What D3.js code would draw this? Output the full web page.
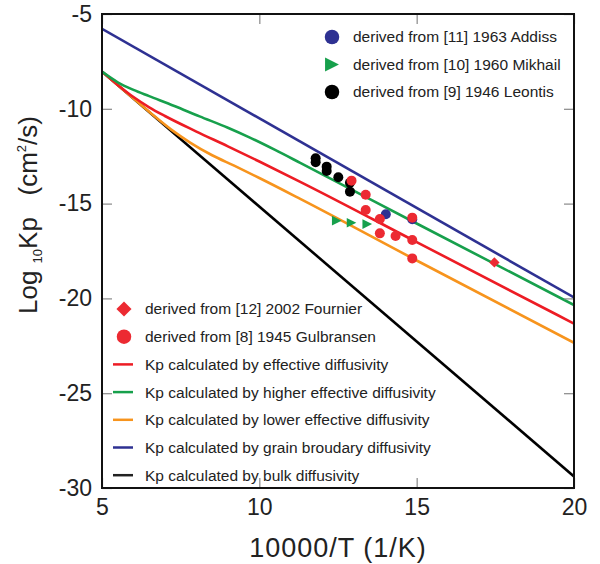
<!DOCTYPE html>
<html>
<head>
<meta charset="utf-8">
<script src="https://cdn.jsdelivr.net/npm/d3@7"></script>
<style>
  body { margin: 0; background: #fff; }
  svg { font-family: "Liberation Sans", Arial, sans-serif; }
</style>
</head>
<body>
<div id="chart"></div>
<script>
// Log10 Kp vs 10000/T

const xTicks = [5, 10, 15, 20];
const yTicks = [-5, -10, -15, -20, -25, -30];

// calculated curves [10000/T, log10 Kp]
const gbLine = [[5, -5.78], [20, -19.95]];
const bulkLine = [[5, -8.04], [20, -29.39]];
const effLine = [[5, -8.04], [5.5, -8.74], [6, -9.38], [6.5, -9.92], [7, -10.38], [8, -11.2], [9, -11.98], [10, -12.78], [11.3, -13.85], [15, -17.03], [20, -21.33]];
const highLine = [[5, -8.04], [5.5, -8.6], [6, -9.0], [6.5, -9.33], [7.3, -9.85], [8.1, -10.4], [9, -11.0], [9.7, -11.52], [10.5, -12.17], [11.3, -12.85], [15, -16.05], [20, -20.35]];
const lowLine = [[5, -8.04], [6, -9.46], [6.6, -10.3], [7.2, -11.1], [7.8, -11.78], [8.5, -12.45], [9.2, -13.0], [10, -13.65], [11.3, -14.75], [15, -18.0], [20, -22.34]];

// measured points
const addiss = [[14.02, -15.56], [14.86, -15.83]];
const mikhail = [[12.46, -15.90], [12.93, -16.01], [13.43, -16.08]];
const leontis = [[11.79, -12.61], [11.79, -12.82], [12.14, -13.05], [12.14, -13.28], [12.51, -13.61], [12.88, -13.90], [12.88, -14.37]];
const fournier = [[17.47, -18.10]];
const gulbransen = [[12.93, -13.79], [13.38, -14.53], [13.38, -15.34], [13.83, -15.81], [13.83, -16.57], [14.33, -16.71], [14.86, -15.74], [14.86, -16.92], [14.86, -17.89]];

const topLegend = [
  { label: 'derived from [11] 1963 Addiss', shape: 'circle', color: '#2e3192' },
  { label: 'derived from [10] 1960 Mikhail', shape: 'triangle', color: '#17a04c' },
  { label: 'derived from [9] 1946 Leontis', shape: 'circle', color: '#000' }
];
const bottomLegend = [
  { label: 'derived from [12] 2002 Fournier', shape: 'diamond', color: '#ec2a32' },
  { label: 'derived from [8] 1945 Gulbransen', shape: 'circle', color: '#ec2a32' },
  { label: 'Kp calculated by effective diffusivity', shape: 'line', color: '#ed1c24' },
  { label: 'Kp calculated by higher effective diffusivity', shape: 'line', color: '#17a04c' },
  { label: 'Kp calculated by lower effective diffusivity', shape: 'line', color: '#f7941d' },
  { label: 'Kp calculated by grain broudary diffusivity', shape: 'line', color: '#2e3192' },
  { label: 'Kp calculated by bulk diffusivity', shape: 'line', color: '#222' }
];

const width = 600, height = 564;
const plotLeft = 102, plotRight = 574, plotTop = 14, plotBottom = 488;

const svg = d3.select('#chart').append('svg')
  .attr('width', width)
  .attr('height', height);

const x = d3.scaleLinear().domain([5, 20]).range([plotLeft, plotRight]);
const y = d3.scaleLinear().domain([-30, -5]).range([plotBottom, plotTop]);

const line = d3.line()
  .x(d => x(d[0]))
  .y(d => y(d[1]))
  .curve(d3.curveMonotoneX);

const plot = svg.append('g');
plot.append('clipPath').attr('id', 'clip')
  .append('rect')
  .attr('x', plotLeft).attr('y', plotTop)
  .attr('width', plotRight - plotLeft).attr('height', plotBottom - plotTop);

const lines = plot.append('g').attr('clip-path', 'url(#clip)');
[
  [bulkLine, '#000'],
  [lowLine, '#f7941d'],
  [effLine, '#ed1c24'],
  [highLine, '#17a04c'],
  [gbLine, '#2e3192']
].forEach(([data, color]) => {
  lines.append('path')
    .datum(data)
    .attr('d', line)
    .attr('fill', 'none')
    .attr('stroke', color)
    .attr('stroke-width', 2.6);
});

function drawMarker(g, shape, color, cx, cy, s) {
  if (shape === 'circle') {
    g.append('circle').attr('cx', cx).attr('cy', cy).attr('r', 5 * s).attr('fill', color);
  } else if (shape === 'triangle') {
    const h = 4.8 * s;
    g.append('path')
      .attr('d', `M${cx - h},${cy - h} L${cx + h},${cy} L${cx - h},${cy + h} Z`)
      .attr('fill', color);
  } else if (shape === 'diamond') {
    const h = 5.2 * s;
    g.append('path')
      .attr('d', `M${cx},${cy - h} L${cx + h},${cy} L${cx},${cy + h} L${cx - h},${cy} Z`)
      .attr('fill', color);
  }
}

const pts = plot.append('g');
leontis.forEach(d => drawMarker(pts, 'circle', '#000', x(d[0]), y(d[1]), 1));
addiss.forEach(d => drawMarker(pts, 'circle', '#2e3192', x(d[0]), y(d[1]), 1));
mikhail.forEach(d => drawMarker(pts, 'triangle', '#17a04c', x(d[0]), y(d[1]), 1));
gulbransen.forEach(d => drawMarker(pts, 'circle', '#ec2a32', x(d[0]), y(d[1]), 1));
fournier.forEach(d => drawMarker(pts, 'diamond', '#ec2a32', x(d[0]), y(d[1]), 1));

// legends
const lg1 = svg.append('g');
topLegend.forEach((d, i) => {
  const cy = 37 + i * 27.5;
  drawMarker(lg1, d.shape, d.color, 332, cy, 1.45);
  lg1.append('text')
    .attr('x', 353).attr('y', cy)
    .attr('dy', '0.35em')
    .attr('font-size', 15.5)
    .attr('fill', '#222')
    .text(d.label);
});

const lg2 = svg.append('g');
bottomLegend.forEach((d, i) => {
  const cy = 309 + i * 27.7;
  if (d.shape === 'line') {
    lg2.append('line')
      .attr('x1', 113).attr('x2', 133)
      .attr('y1', cy).attr('y2', cy)
      .attr('stroke', d.color).attr('stroke-width', 2.5);
  } else {
    drawMarker(lg2, d.shape, d.color, 124, cy, 1.45);
  }
  lg2.append('text')
    .attr('x', 145).attr('y', cy)
    .attr('dy', '0.35em')
    .attr('font-size', 15.5)
    .attr('fill', '#222')
    .text(d.label);
});

// axes, ticks pointing inward
const xAxis = svg.append('g')
  .attr('transform', `translate(0,${plotBottom})`)
  .call(d3.axisBottom(x).tickValues(xTicks).tickSize(-10).tickPadding(11).tickFormat(d3.format('d')));
const yAxis = svg.append('g')
  .attr('transform', `translate(${plotLeft},0)`)
  .call(d3.axisLeft(y).tickValues(yTicks).tickSize(-10).tickPadding(10).tickFormat(d => String(d)));
const xTop = svg.append('g')
  .attr('transform', `translate(0,${plotTop})`)
  .call(d3.axisTop(x).tickValues(xTicks).tickSize(-10).tickFormat(''));
const yRight = svg.append('g')
  .attr('transform', `translate(${plotRight},0)`)
  .call(d3.axisRight(y).tickValues(yTicks).tickSize(-10).tickFormat(''));

[xAxis, yAxis, xTop, yRight].forEach(a => {
  a.select('.domain').remove();
  a.selectAll('.tick line').attr('stroke', '#888').attr('stroke-width', 1.2);
  a.selectAll('.tick text')
    .attr('font-size', 23)
    .attr('font-family', '"Liberation Sans", Arial, sans-serif')
    .attr('fill', '#222');
});

svg.append('rect')
  .attr('x', plotLeft).attr('y', plotTop)
  .attr('width', plotRight - plotLeft).attr('height', plotBottom - plotTop)
  .attr('fill', 'none')
  .attr('stroke', '#111')
  .attr('stroke-width', 2);

// axis titles
svg.append('text')
  .attr('x', (plotLeft + plotRight) / 2)
  .attr('y', 557)
  .attr('text-anchor', 'middle')
  .attr('font-size', 27)
  .attr('letter-spacing', 1)
  .attr('fill', '#222')
  .text('10000/T (1/K)');

const yTitle = svg.append('text')
  .attr('transform', 'translate(37,215) rotate(-90)')
  .attr('text-anchor', 'middle')
  .attr('font-size', 26)
  .attr('fill', '#222');
yTitle.append('tspan').text('Log ');
yTitle.append('tspan').attr('font-size', 13).attr('dy', 5).text('10');
yTitle.append('tspan').attr('dy', -5).text('Kp\u00a0\u00a0 (cm');
yTitle.append('tspan').attr('font-size', 13).attr('dy', -11).text('2');
yTitle.append('tspan').attr('dy', 11).text('/s)');
</script>
</body>
</html>
